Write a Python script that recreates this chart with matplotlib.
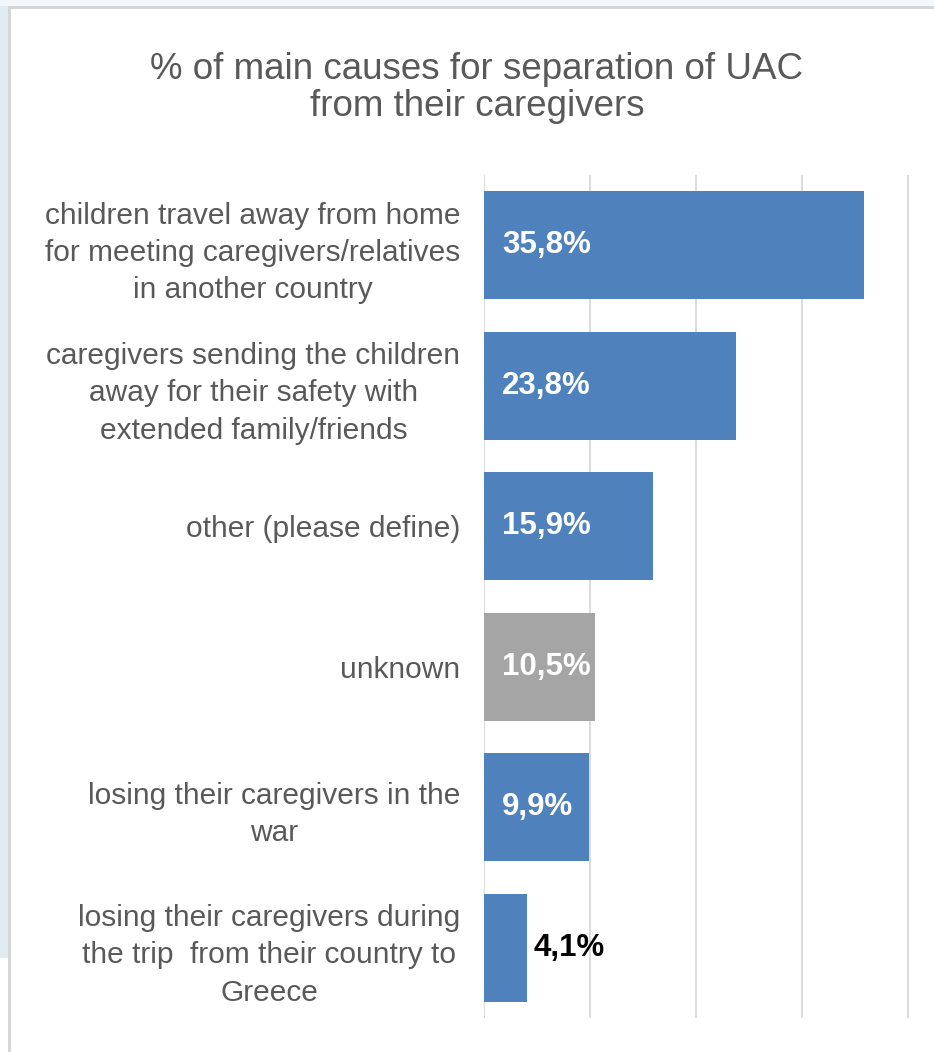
import matplotlib.pyplot as plt
from matplotlib.patches import Rectangle

# categories (top to bottom) and their shares
labels = ['children travel away from home\nfor meeting caregivers/relatives\nin another country',
          'caregivers sending the children\naway for their safety with\nextended family/friends',
          'other (please define)',
          'unknown',
          'losing their caregivers in the\nwar',
          'losing their caregivers during\nthe trip  from their country to\nGreece']
values = [35.8, 23.8, 15.9, 10.5, 9.9, 4.1]
value_text = ['35,8%', '23,8%', '15,9%', '10,5%', '9,9%', '4,1%']
colors = ['#4f81bd', '#4f81bd', '#4f81bd', '#a5a5a5', '#4f81bd', '#4f81bd']

W, H = 934, 1052
fig = plt.figure(figsize=(W / 100, H / 100), dpi=100)
fig.patch.set_facecolor('white')

# screenshot frame: light strips and grey border
fig.patches.append(Rectangle((0, 1 - 6 / H), 1, 6 / H, transform=fig.transFigure,
                             facecolor='#f4f7f9', edgecolor='none', zorder=0))
fig.patches.append(Rectangle((0, 1 - 958 / H), 8 / W, 952 / H, transform=fig.transFigure,
                             facecolor='#e1ecf1', edgecolor='none', zorder=0))
fig.patches.append(Rectangle((8 / W, 0), 3 / W, 1 - 6 / H, transform=fig.transFigure,
                             facecolor='#d6d6d6', edgecolor='none', zorder=0))
fig.patches.append(Rectangle((8 / W, 1 - 9 / H), 1, 3 / H, transform=fig.transFigure,
                             facecolor='#d6d6d6', edgecolor='none', zorder=0))

ax = fig.add_axes([484 / W, 1 - 1018 / H, 1 - 484 / W, (1018 - 175) / H])
y = list(range(len(values)))
ax.barh(y, values, height=0.77, color=colors, zorder=2)
ax.set_ylim(len(values) - 0.5, -0.5)
ax.set_xlim(0, 42.45)
ax.set_xticks([0, 10, 20, 30, 40])
ax.xaxis.grid(True, color='#d9d9d9', linewidth=1.3, zorder=0)
ax.tick_params(axis='x', length=0, labelbottom=False)
ax.tick_params(axis='y', length=0, pad=17)
for s in ax.spines.values():
    s.set_visible(False)

ax.set_yticks(y)
ax.set_yticklabels(labels, fontsize=21.5, color='#595959', family='Liberation Sans',
                   multialignment='center', linespacing=1.42)

for i, (v, t) in enumerate(zip(values, value_text)):
    if v > 8:
        ax.annotate(t, (0, i), xytext=(13, 0), textcoords='offset points',
                    ha='left', va='center', color='white', fontsize=22.5,
                    fontweight='bold', family='Liberation Sans', zorder=3)
    else:
        ax.annotate(t, (v, i), xytext=(4, 0), textcoords='offset points',
                    ha='left', va='center', color='black', fontsize=22.5,
                    fontweight='bold', family='Liberation Sans', zorder=3)

fig.text(477 / W, 1 - 88 / H, '% of main causes for separation of UAC\nfrom their caregivers',
         ha='center', va='center', fontsize=26.5, color='#595959',
         family='Liberation Sans', linespacing=1.05)

fig.savefig('out.png', dpi=100, facecolor=fig.get_facecolor())
